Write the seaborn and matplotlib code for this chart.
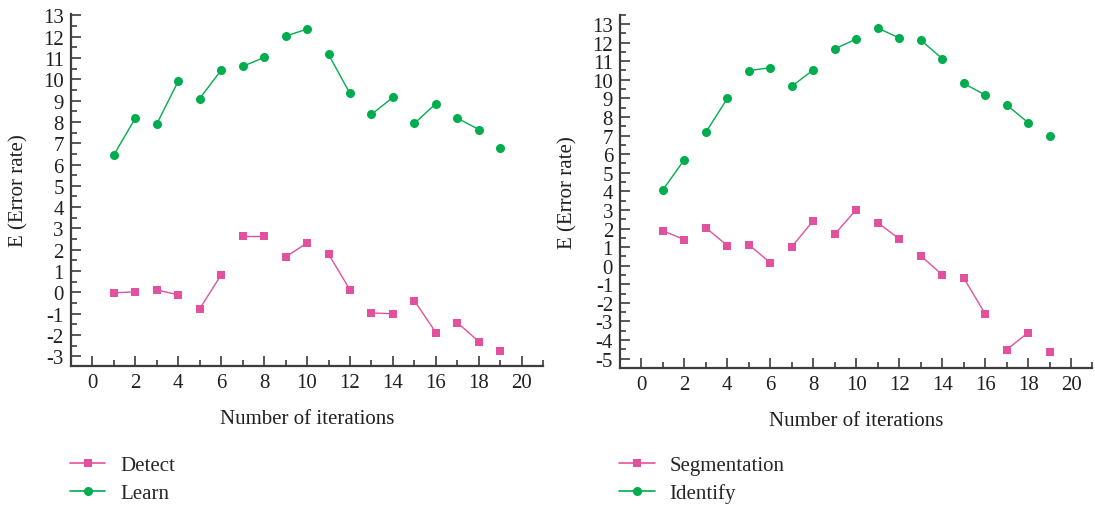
import numpy as np
import pandas as pd
import matplotlib
matplotlib.use("Agg")
import matplotlib.pyplot as plt
from matplotlib.lines import Line2D
from matplotlib.ticker import MultipleLocator
import seaborn as sns

iterations = list(range(1, 20))
learn = [6.44, 8.16, 7.89, 9.90, 9.09, 10.42, 10.60, 11.02, 12.02, 12.35,
         11.16, 9.33, 8.35, 9.15, 7.93, 8.86, 8.17, 7.64, 6.76]
detect = [-0.02, 0.03, 0.12, -0.11, -0.77, 0.82, 2.64, 2.64, 1.66, 2.32,
          1.80, 0.12, -0.96, -1.00, -0.39, -1.89, -1.42, -2.31, -2.73]
identify = [4.08, 5.71, 7.18, 9.00, 10.49, 10.65, 9.65, 10.53, 11.66, 12.19,
            12.78, 12.25, 12.14, 11.14, 9.81, 9.18, 8.65, 7.70, 6.96]
segmentation = [1.88, 1.40, 2.04, 1.08, 1.13, 0.16, 1.02, 2.42, 1.70, 3.01,
                2.31, 1.45, 0.54, -0.48, -0.65, -2.58, -4.52, -3.60, -4.62]
left_labels = ["Detect", "Learn"]
right_labels = ["Segmentation", "Identify"]

PINK = "#E2519D"
GREEN = "#00AD4E"
SPINE = "#3c3c3c"
FS = 15

sns.set_theme(style="ticks")
plt.rcParams["font.family"] = ["Liberation Serif", "DejaVu Serif"]
plt.rcParams["font.size"] = FS
plt.rcParams["axes.unicode_minus"] = False

fig = plt.figure(figsize=(10.95, 5.06), dpi=100)
axL = fig.add_axes([0.0646, 0.2747, 0.4316, 0.6953])
axR = fig.add_axes([0.5662, 0.2708, 0.4315, 0.6982])


def make_df(a, b, names):
    rows = []
    for name, vals in zip(names, (a, b)):
        for x, v in zip(iterations, vals):
            rows.append({"iter": x, "value": v, "series": name, "pair": (x - 1) // 2})
    return pd.DataFrame(rows)


def draw(ax, a, b, names, ylim, yticks):
    df = make_df(a, b, names)
    pal = {names[0]: PINK, names[1]: GREEN}
    for name, marker, ms in ((names[1], "o", 6.5), (names[0], "s", 5.5)):
        sub = df[df["series"] == name]
        sns.lineplot(data=sub, x="iter", y="value", units="pair", estimator=None,
                     color=pal[name], marker=marker, markersize=ms,
                     markeredgewidth=0, linewidth=1.0, ax=ax, legend=False)
    ax.set_xlim(-1, 21)
    ax.set_ylim(*ylim)
    ax.set_xticks(range(0, 21, 2))
    ax.xaxis.set_minor_locator(MultipleLocator(1))
    ax.set_yticks(yticks)
    ax.yaxis.set_minor_locator(MultipleLocator(0.5))
    ax.tick_params(which="major", direction="in", length=7, width=1.2,
                   color=SPINE, labelsize=FS, labelcolor="#231f20", pad=5)
    ax.tick_params(which="minor", direction="in", length=4, width=1.2, color=SPINE)
    for s in ("top", "right"):
        ax.spines[s].set_visible(False)
    for s in ("left", "bottom"):
        ax.spines[s].set_color(SPINE)
        ax.spines[s].set_linewidth(1.6)
    ax.set_xlabel("Number of iterations", fontsize=FS, color="#231f20", labelpad=12)
    ax.set_ylabel("E (Error rate)", fontsize=FS, color="#231f20")
    handles = [Line2D([], [], color=PINK, marker="s", markersize=5.5, markeredgewidth=0, lw=1.2),
               Line2D([], [], color=GREEN, marker="o", markersize=6.5, markeredgewidth=0, lw=1.2)]
    return handles


hL = draw(axL, detect, learn, left_labels, (-3.45, 13.05), range(-3, 14))
hR = draw(axR, segmentation, identify, right_labels, (-5.5, 13.5), range(-5, 14))
axL.yaxis.set_label_coords(-0.090, 0.5)
axR.yaxis.set_label_coords(-0.091, 0.5)

for handles, labels, x0 in ((hL, left_labels, 0.064), (hR, right_labels, 0.5655)):
    fig.legend(handles, labels, loc="upper left", bbox_to_anchor=(x0, 0.098),
               frameon=False, fontsize=FS, handlelength=1.7, handletextpad=0.7,
               labelspacing=0.4, borderpad=0, borderaxespad=0)

fig.savefig("out.png", dpi=100)
